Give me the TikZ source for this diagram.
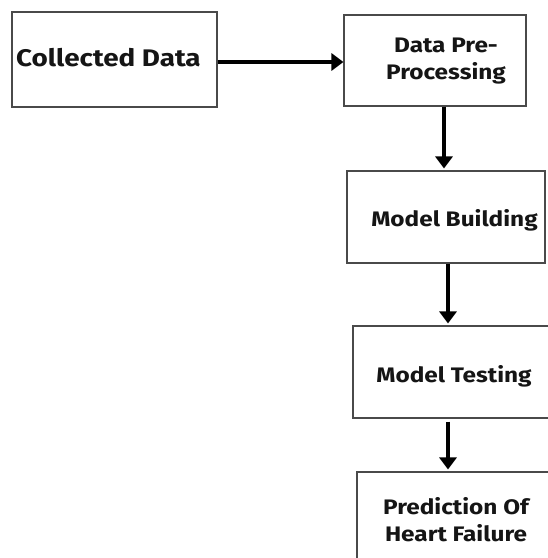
\documentclass[tikz,border=0pt]{standalone}
\usepackage{fontspec}
\setmainfont{Fira Sans}[FakeStretch=1.16]
\usetikzlibrary{arrows.meta,calc}
\definecolor{ink}{HTML}{151515}
\definecolor{edge}{HTML}{4A4A4A}
\tikzset{
  box/.style={draw=edge, line width=1.1pt, fill=white, inner sep=0pt},
  txt/.style={text=ink, font=\bfseries\fontsize{21}{27}\selectfont, align=center, inner sep=0pt},
  arr/.style={draw=black, line width=3.2pt, -{Triangle[length=12pt,width=17pt]}}
}
\begin{document}
\begin{tikzpicture}[x=1pt,y=1pt]
\useasboundingbox (0,0) rectangle (548,-558);
\clip (0,0) rectangle (548,-558);
\fill[white] (0,0) rectangle (548,-558);
% boxes
\node[box, minimum width=205pt, minimum height=95pt] (b1) at (114.5,-59.5) {};
\node[box, minimum width=182pt, minimum height=91pt] (b2) at (435,-60.5) {};
\node[box, minimum width=198pt, minimum height=92pt] (b3) at (446,-217) {};
\node[box, minimum width=200pt, minimum height=92pt] (b4) at (453,-372) {};
\node[box, minimum width=200pt, minimum height=100pt] (b5) at (457,-522) {};
% texts
\node[txt, anchor=west, font=\bfseries\fontsize{24}{28}\selectfont] (t1) at (16,-58) {Collected Data};
\node[txt] (t2) at (446,-61) {Data Pre-\\Processing};
\node[txt] (t3) at (454.5,-220) {Model Building};
\node[txt] (t4) at (454,-376) {Model Testing};
\node[txt] (t5) at (456,-520) {Prediction Of\\Heart Failure};
% connector x positions
\coordinate (x2) at (444,0);
\coordinate (x3) at (448,0);
\coordinate (x4) at (448,0);
\draw[arr] (b1.east |- 0,-62) -- (b2.west |- 0,-62);
\draw[arr, shorten >=2pt] (b2.south -| x2) -- (b3.north -| x2);
\draw[arr, shorten >=2pt] (b3.south -| x3) -- (b4.north -| x3);
\draw[arr, shorten <=3pt, shorten >=2pt] (b4.south -| x4) -- (b5.north -| x4);
\end{tikzpicture}
\end{document}
